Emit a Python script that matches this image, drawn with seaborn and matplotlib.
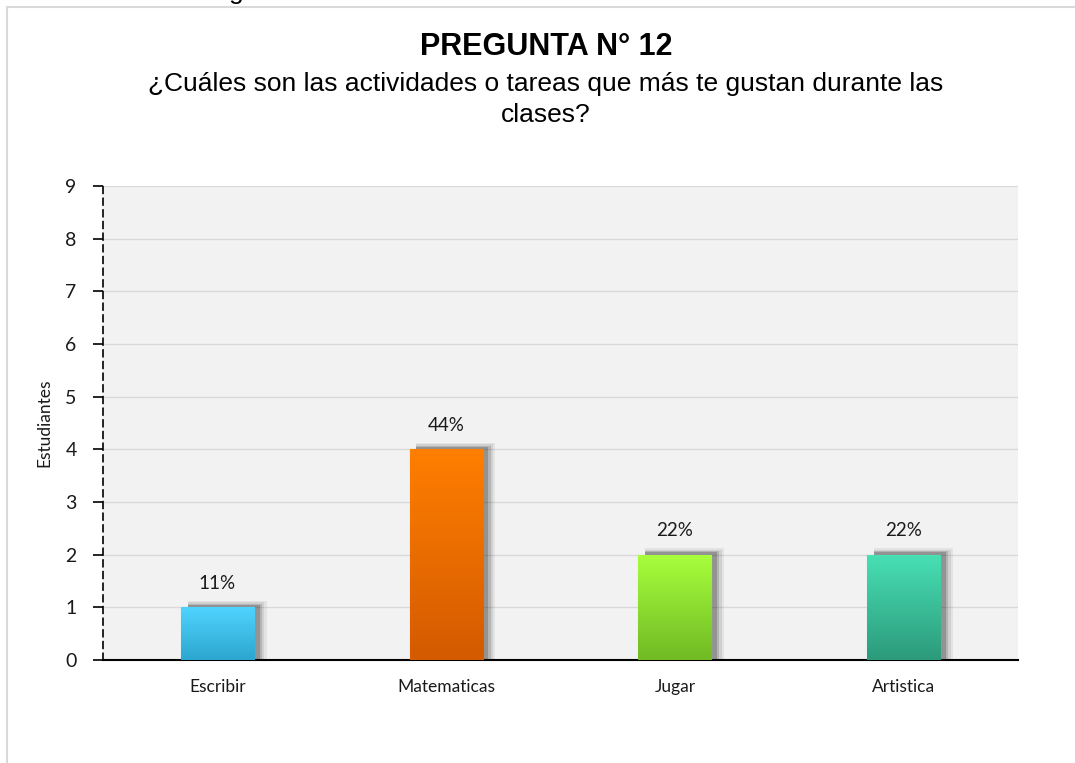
import numpy as np
import pandas as pd
import seaborn as sns
import matplotlib.pyplot as plt
from matplotlib.patches import Rectangle
from matplotlib.colors import LinearSegmentedColormap

categories = ["Escribir", "Matematicas", "Jugar", "Artistica"]
values = [1, 4, 2, 2]
labels = ["11%", "44%", "22%", "22%"]
top_colors = ["#4fd4ff", "#ff7f00", "#a8ff3c", "#48e0b4"]
bottom_colors = ["#2ca6cf", "#d45a00", "#70ba24", "#2c9a7b"]
title = "PREGUNTA N° 12"
subtitle = "¿Cuáles son las actividades o tareas que más te gustan durante las\nclases?"
ylabel = "Estudiantes"

sns.set_theme(style="white")
plt.rcParams['font.family'] = ['Lato', 'DejaVu Sans']
ARIAL = ["Liberation Sans", "DejaVu Sans"]

fig = plt.figure(figsize=(10.75, 7.63), dpi=100)
# outer chart border
fig.patches.append(Rectangle((6.5/1075, -0.1), 1.2, (763-6.5)/763 + 0.1, transform=fig.transFigure,
                             fill=False, edgecolor="#d9d9d9", linewidth=1.5))
# clipped text fragment from the page above the chart
fig.text(236/1075, 1 + 1/763, "g", ha="center", va="baseline", fontsize=19,
         family=ARIAL, color="#000000")

ax = fig.add_axes([103/1075, 1-660/763, (1018-103)/1075, (660-186)/763])
df = pd.DataFrame({"cat": categories, "val": values})
sns.barplot(data=df, x="cat", y="val", ax=ax, width=0.32, color="white", zorder=3)
ax.set_facecolor("#f2f2f2")
ax.set_yticks(range(10))
ax.yaxis.grid(True, color="#d9d9d9", linewidth=1, zorder=0)
ax.set_axisbelow(True)

# gradient fills and shadows
for i, p in enumerate(ax.patches):
    x0, w, h = p.get_x(), p.get_width(), p.get_height()
    for k, (dx, a) in enumerate([(0.055, 0.10), (0.045, 0.14), (0.035, 0.22), (0.025, 0.3)]):
        ax.add_patch(Rectangle((x0 + 0.03, 0), w + dx - 0.03, h + 0.12 - k*0.025,
                               facecolor="#000000", alpha=a*0.6, edgecolor="none", zorder=2))
    cmap = LinearSegmentedColormap.from_list("g", [bottom_colors[i], top_colors[i]])
    grad = np.linspace(0, 1, 256).reshape(-1, 1)
    im = ax.imshow(grad, extent=[x0, x0 + w, 0, h], origin="lower", aspect="auto",
                   cmap=cmap, zorder=3.5)
    im.set_clip_path(p)
    p.set_edgecolor(top_colors[i])
    p.set_linewidth(0.8)
    ax.text(x0 + w/2, h + 0.3, labels[i], ha="center", va="bottom", fontsize=13.5,
            color="#1a1a1a", zorder=5)
ax.set_xlim(-0.5, 3.5)
ax.set_ylim(0, 9)

for s in ["top", "right"]:
    ax.spines[s].set_visible(False)
ax.spines["left"].set_linestyle((0, (4, 3)))
ax.spines["left"].set_color("#000000")
ax.spines["left"].set_linewidth(1.2)
ax.spines["bottom"].set_color("#000000")
ax.spines["bottom"].set_linewidth(1.5)
ax.tick_params(axis="y", left=True, length=7, width=1.2, color="black", labelsize=14,
               pad=12, labelcolor="#1a1a1a")
ax.tick_params(axis="x", bottom=False, labelsize=12.5, pad=8, labelcolor="#1a1a1a")
ax.set_xlabel("")
ax.set_ylabel(ylabel, fontsize=12.5, labelpad=9, color="#1a1a1a")

fig.text(546/1075, 1-47/763, title, ha="center", va="center", fontsize=22,
         fontweight="bold", family=ARIAL, color="#000000")
fig.text(546/1075, 1-99.5/763, subtitle, ha="center", va="center", fontsize=19,
         family=ARIAL, color="#000000", linespacing=1.38)

fig.savefig("out.png", dpi=100)
